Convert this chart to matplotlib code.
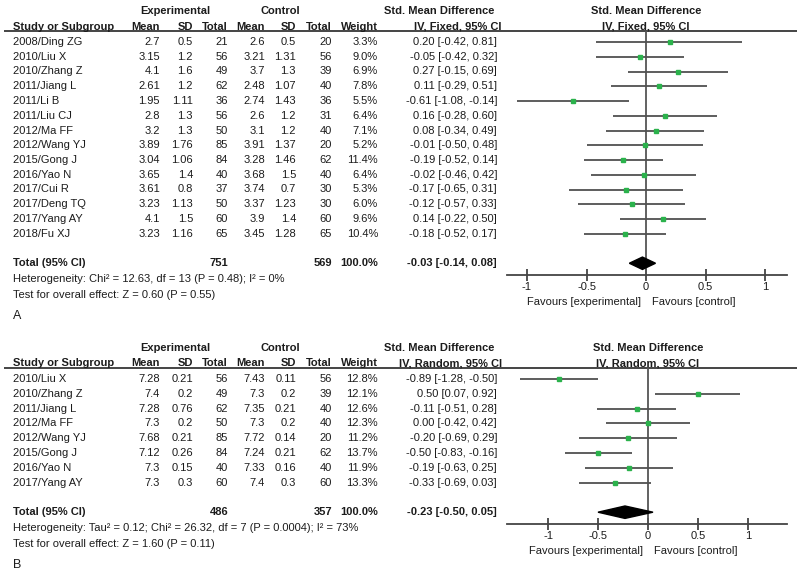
import matplotlib
matplotlib.use("Agg")
import matplotlib.pyplot as plt
from matplotlib.patches import Polygon

plt.rcParams['font.family'] = ['Liberation Sans', 'DejaVu Sans']
plt.rcParams['font.size'] = 8

W, H = 800, 573
TXT = '#1c1c1c'
LINE = '#505050'
GREEN = '#2bb24c'

# ---------------- panel A data ----------------
studies_a = ["2008/Ding ZG", "2010/Liu X", "2010/Zhang Z", "2011/Jiang L", "2011/Li B",
             "2011/Liu CJ", "2012/Ma FF", "2012/Wang YJ", "2015/Gong J", "2016/Yao N",
             "2017/Cui R", "2017/Deng TQ", "2017/Yang AY", "2018/Fu XJ"]
exp_mean_a = [2.7, 3.15, 4.1, 2.61, 1.95, 2.8, 3.2, 3.89, 3.04, 3.65, 3.61, 3.23, 4.1, 3.23]
exp_sd_a = [0.5, 1.2, 1.6, 1.2, 1.11, 1.3, 1.3, 1.76, 1.06, 1.4, 0.8, 1.13, 1.5, 1.16]
exp_n_a = [21, 56, 49, 62, 36, 56, 50, 85, 84, 40, 37, 50, 60, 65]
ctl_mean_a = [2.6, 3.21, 3.7, 2.48, 2.74, 2.6, 3.1, 3.91, 3.28, 3.68, 3.74, 3.37, 3.9, 3.45]
ctl_sd_a = [0.5, 1.31, 1.3, 1.07, 1.43, 1.2, 1.2, 1.37, 1.46, 1.5, 0.7, 1.23, 1.4, 1.28]
ctl_n_a = [20, 56, 39, 40, 36, 31, 40, 20, 62, 40, 30, 30, 60, 65]
weight_a = [3.3, 9.0, 6.9, 7.8, 5.5, 6.4, 7.1, 5.2, 11.4, 6.4, 5.3, 6.0, 9.6, 10.4]
smd_a = [0.20, -0.05, 0.27, 0.11, -0.61, 0.16, 0.08, -0.01, -0.19, -0.02, -0.17, -0.12, 0.14, -0.18]
lo_a = [-0.42, -0.42, -0.15, -0.29, -1.08, -0.28, -0.34, -0.50, -0.52, -0.46, -0.65, -0.57, -0.22, -0.52]
hi_a = [0.81, 0.32, 0.69, 0.51, -0.14, 0.60, 0.49, 0.48, 0.14, 0.42, 0.31, 0.33, 0.50, 0.17]
total_a = (751, 569, -0.03, -0.14, 0.08)
het_a = "Heterogeneity: Chi\u00b2 = 12.63, df = 13 (P = 0.48); I\u00b2 = 0%"
test_a = "Test for overall effect: Z = 0.60 (P = 0.55)"

# ---------------- panel B data ----------------
studies_b = ["2010/Liu X", "2010/Zhang Z", "2011/Jiang L", "2012/Ma FF", "2012/Wang YJ",
             "2015/Gong J", "2016/Yao N", "2017/Yang AY"]
exp_mean_b = [7.28, 7.4, 7.28, 7.3, 7.68, 7.12, 7.3, 7.3]
exp_sd_b = [0.21, 0.2, 0.76, 0.2, 0.21, 0.26, 0.15, 0.3]
exp_n_b = [56, 49, 62, 50, 85, 84, 40, 60]
ctl_mean_b = [7.43, 7.3, 7.35, 7.3, 7.72, 7.24, 7.33, 7.4]
ctl_sd_b = [0.11, 0.2, 0.21, 0.2, 0.14, 0.21, 0.16, 0.3]
ctl_n_b = [56, 39, 40, 40, 20, 62, 40, 60]
weight_b = [12.8, 12.1, 12.6, 12.3, 11.2, 13.7, 11.9, 13.3]
smd_b = [-0.89, 0.50, -0.11, 0.00, -0.20, -0.50, -0.19, -0.33]
lo_b = [-1.28, 0.07, -0.51, -0.42, -0.69, -0.83, -0.63, -0.69]
hi_b = [-0.50, 0.92, 0.28, 0.42, 0.29, -0.16, 0.25, 0.03]
total_b = (486, 357, -0.23, -0.50, 0.05)
het_b = "Heterogeneity: Tau\u00b2 = 0.12; Chi\u00b2 = 26.32, df = 7 (P = 0.0004); I\u00b2 = 73%"
test_b = "Test for overall effect: Z = 1.60 (P = 0.11)"

ticks = [-1, -0.5, 0, 0.5, 1]
tick_labels = ["-1", "-0.5", "0", "0.5", "1"]

# column right edges (px)
COLS = [160, 193, 228, 265, 296, 332, 378]
EFF_X = 497


def fmt(v):
    return f"{v:g}"


def draw_panel(fig, first_px, step, zero_px, scale, model, letter,
               studies, em, es, en, cm, cs, cn, wt, smd, lo, hi, total, het, test):
    n = len(studies)
    tot_r = n + 1
    # table axes: whole figure, x in px, y in row units
    axt = fig.add_axes([0, 0, 1, 1])
    axt.set_xlim(0, W)
    axt.set_ylim((H - first_px) / step, -first_px / step)
    axt.axis('off')

    # headers
    axt.text(175, -2.1, "Experimental", ha='center', va='center', weight='bold', color=TXT)
    axt.text(280, -2.1, "Control", ha='center', va='center', weight='bold', color=TXT)
    axt.text(494, -2.1, "Std. Mean Difference", ha='right', va='center', weight='bold', color=TXT)
    axt.text(13, -1.05, "Study or Subgroup", ha='left', va='center', weight='bold', color=TXT)
    for x, lab in zip(COLS, ["Mean", "SD", "Total", "Mean", "SD", "Total", "Weight"]):
        axt.text(x, -1.05, lab, ha='right', va='center', weight='bold', color=TXT)
    axt.text(502, -1.05, f"IV, {model}, 95% CI", ha='right', va='center', weight='bold', color=TXT)
    axt.plot([4, 797], [-0.75, -0.75], color='#444444', lw=1.4, solid_capstyle='butt')

    # study rows
    for i in range(n):
        vals = [fmt(em[i]), fmt(es[i]), str(en[i]), fmt(cm[i]), fmt(cs[i]), str(cn[i]), f"{wt[i]:.1f}%"]
        axt.text(13, i, studies[i], ha='left', va='center', color=TXT)
        for x, v in zip(COLS, vals):
            axt.text(x, i, v, ha='right', va='center', color=TXT)
        axt.text(EFF_X, i, f"{smd[i]:.2f} [{lo[i]:.2f}, {hi[i]:.2f}]", ha='right', va='center', color=TXT)

    ne, nc, ts, tl, th = total
    axt.text(13, tot_r, "Total (95% CI)", ha='left', va='center', weight='bold', color=TXT)
    axt.text(COLS[2], tot_r, str(ne), ha='right', va='center', weight='bold', color=TXT)
    axt.text(COLS[5], tot_r, str(nc), ha='right', va='center', weight='bold', color=TXT)
    axt.text(COLS[6], tot_r, "100.0%", ha='right', va='center', weight='bold', color=TXT)
    axt.text(EFF_X, tot_r, f"{ts:.2f} [{tl:.2f}, {th:.2f}]", ha='right', va='center', weight='bold', color=TXT)
    axt.text(13, tot_r + 1.1, het, ha='left', va='center', color=TXT)
    axt.text(13, tot_r + 2.15, test, ha='left', va='center', color=TXT)
    axt.text(13, tot_r + 3.55, letter, ha='left', va='center', fontsize=9, color=TXT)

    # forest axes
    left_px, right_px = 507, 787
    top_r, bot_r = -0.75, tot_r + 0.83
    top_px = first_px + top_r * step
    bot_px = first_px + bot_r * step
    axf = fig.add_axes([left_px / W, 1 - bot_px / H, (right_px - left_px) / W, (bot_px - top_px) / H])
    axf.patch.set_alpha(0)
    axf.set_xlim((left_px - zero_px) / scale, (right_px - zero_px) / scale)
    axf.set_ylim(bot_r, top_r)
    for s in ['top', 'left', 'right']:
        axf.spines[s].set_visible(False)
    axf.spines['bottom'].set_color('#444444')
    axf.spines['bottom'].set_linewidth(1.3)
    axf.set_yticks([])
    axf.set_xticks(ticks)
    axf.set_xticklabels(tick_labels)
    axf.tick_params(axis='x', direction='inout', length=8, width=1.3, color='#444444',
                    labelsize=8, labelcolor=TXT, pad=1)
    axf.axvline(0, color='#555555', lw=1.3)

    for i in range(n):
        axf.plot([lo[i], hi[i]], [i, i], color=LINE, lw=1.3, solid_capstyle='butt')
        axf.plot(smd[i], i, 's', color=GREEN, ms=2.1 + 0.09 * wt[i], mec=GREEN, zorder=3)
    h = 0.42
    axf.add_patch(Polygon([(tl, tot_r), (ts, tot_r - h), (th, tot_r), (ts, tot_r + h)],
                          closed=True, color='black', zorder=4))

    axf.annotate("Favours [experimental]", xy=(0, 0), xycoords=('data', 'axes fraction'),
                 xytext=(-5, -27), textcoords='offset pixels', ha='right', va='center', color=TXT)
    axf.annotate("Favours [control]", xy=(0, 0), xycoords=('data', 'axes fraction'),
                 xytext=(6, -27), textcoords='offset pixels', ha='left', va='center', color=TXT)

    # forest header centered on zero line
    axf.text(0, -2.1, "Std. Mean Difference", ha='center', va='center', weight='bold', color=TXT, clip_on=False)
    axf.text(0, -1.05, f"IV, {model}, 95% CI", ha='center', va='center', weight='bold', color=TXT, clip_on=False)


fig = plt.figure(figsize=(W / 100, H / 100), dpi=100)
draw_panel(fig, 42, 14.75, 646, 119, "Fixed", "A",
           studies_a, exp_mean_a, exp_sd_a, exp_n_a, ctl_mean_a, ctl_sd_a, ctl_n_a,
           weight_a, smd_a, lo_a, hi_a, total_a, het_a, test_a)
draw_panel(fig, 379, 14.8, 648, 100, "Random", "B",
           studies_b, exp_mean_b, exp_sd_b, exp_n_b, ctl_mean_b, ctl_sd_b, ctl_n_b,
           weight_b, smd_b, lo_b, hi_b, total_b, het_b, test_b)
fig.savefig("out.png", dpi=100)
